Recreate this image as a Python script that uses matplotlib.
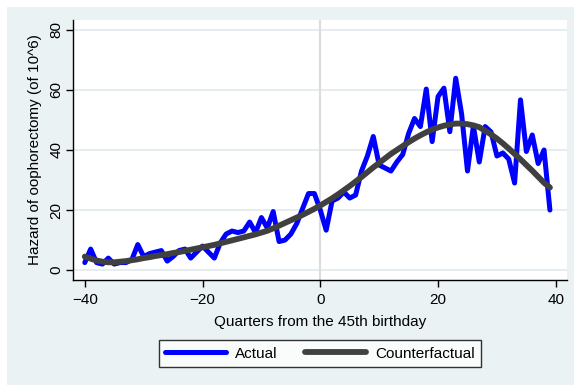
import matplotlib
matplotlib.use("Agg")
import matplotlib.pyplot as plt
from matplotlib.patches import Rectangle

# Quarters relative to the 45th birthday
quarters = list(range(-40, 40))

# Observed hazard of oophorectomy (per 10^6)
actual = [
    2.5, 7.0, 2.5, 2.0, 4.0, 2.0, 2.5, 2.5, 3.5, 8.5,
    4.5, 5.5, 6.0, 6.5, 3.0, 4.5, 6.5, 7.0, 4.0, 6.0,
    8.0, 6.0, 4.0, 9.0, 12.0, 13.0, 12.5, 13.0, 16.0, 12.5,
    17.5, 14.0, 19.5, 9.5, 10.0, 12.0, 15.5, 20.5, 25.5, 25.5,
    20.0, 13.3, 23.0, 24.0, 26.0, 24.0, 25.0, 33.0, 38.0, 44.5,
    35.0, 34.0, 33.0, 36.0, 38.5, 45.5, 50.5, 47.8, 60.3, 42.8,
    57.8, 60.6, 46.1, 63.9, 52.0, 33.0, 48.0, 36.0, 47.8, 46.0,
    38.0, 39.0, 37.0, 29.0, 56.7, 39.5, 45.0, 35.5, 40.0, 20.0,
]

# Fitted counterfactual hazard
counterfactual = [
    4.5, 3.8, 3.2, 2.8, 2.6, 2.6, 2.8, 3.0, 3.3, 3.6,
    4.0, 4.3, 4.7, 5.0, 5.3, 5.7, 6.0, 6.4, 6.8, 7.2,
    7.6, 8.0, 8.4, 8.9, 9.4, 9.9, 10.4, 10.9, 11.4, 11.9,
    12.5, 13.1, 13.9, 14.8, 15.7, 16.6, 17.5, 18.4, 19.4, 20.4,
    21.5, 22.7, 23.9, 25.2, 26.6, 28.0, 29.5, 31.0, 32.6, 34.2,
    35.7, 37.2, 38.7, 40.0, 41.3, 42.6, 43.8, 44.9, 45.9, 46.8,
    47.5, 48.1, 48.5, 48.8, 48.8, 48.6, 48.2, 47.6, 46.4, 45.2,
    43.8, 42.2, 40.5, 38.7, 36.9, 35.0, 33.1, 31.1, 29.1, 27.5,
]

x_ticks = [-40, -20, 0, 20, 40]
y_ticks = [0, 20, 40, 60, 80]

bg = "#eaf2f3"
grid_col = "#e3ecef"

plt.rcParams["font.family"] = ["Liberation Sans", "DejaVu Sans"]
plt.rcParams["font.size"] = 11

W, H = 574, 385
fig = plt.figure(figsize=(W / 100, H / 100), dpi=100, facecolor="white")

# graph region background
fig.patches.append(Rectangle((7 / W, 0), 1 - 7 / W, 1 - 7 / H,
                             transform=fig.transFigure, facecolor=bg,
                             edgecolor="none", zorder=-10))

left, right, top, bottom = 73, 567, 20, 280
ax = fig.add_axes([left / W, (H - bottom) / H, (right - left) / W, (bottom - top) / H])
ax.set_facecolor("white")

ax.set_xlim(-42.0, 41.9)
ax.set_ylim(-3.3, 83.3)

for y in y_ticks:
    ax.axhline(y, color=grid_col, lw=1.3, zorder=1)
ax.axvline(0, color="#dcdcdc", lw=1.6, zorder=1)

ax.plot(quarters, actual, color="#0000ff", lw=3.6, solid_joinstyle="round",
        solid_capstyle="round", zorder=3, label="Actual")
ax.plot(quarters, counterfactual, color="#404040", lw=4.2,
        solid_capstyle="round", zorder=4, label="Counterfactual")

for side in ("top", "right"):
    ax.spines[side].set_visible(False)
for side in ("left", "bottom"):
    ax.spines[side].set_color("black")
    ax.spines[side].set_linewidth(1.0)

ax.set_xticks(x_ticks)
ax.set_yticks(y_ticks)
ax.tick_params(axis="both", direction="out", length=5, width=1.0, color="black",
               labelsize=11)
ax.tick_params(axis="x", pad=4)
ax.tick_params(axis="y", pad=2)
for lbl in ax.get_yticklabels():
    lbl.set_rotation(90)
    lbl.set_va("center")

ax.set_xlabel("Quarters from the 45th birthday", fontsize=11, labelpad=6)
ax.set_ylabel("Hazard of oophorectomy (of 10^6)", fontsize=11, labelpad=5)

handles, labels = ax.get_legend_handles_labels()
leg = fig.legend(handles, labels, loc="center", bbox_to_anchor=(320 / W, (H - 353.5) / H),
                 ncol=2, frameon=True, fancybox=False, handlelength=4.0,
                 handletextpad=0.6, columnspacing=1.8, borderpad=0.4, fontsize=11)
leg.get_frame().set_edgecolor("black")
leg.get_frame().set_linewidth(1.0)
leg.get_frame().set_facecolor("white")

fig.savefig("out.png", dpi=100, facecolor=fig.get_facecolor())
